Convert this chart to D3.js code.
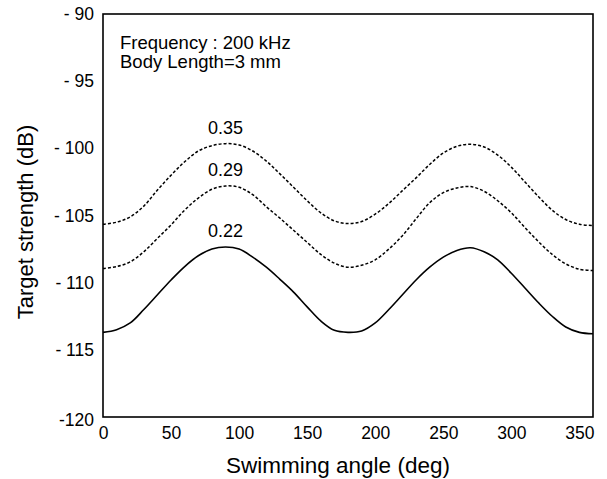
<!DOCTYPE html>
<html>
<head>
<meta charset="utf-8">
<script src="https://cdn.jsdelivr.net/npm/d3@7"></script>
<style>
  body { margin: 0; background: #fff; }
  svg { display: block; font-family: "Liberation Sans", Arial, sans-serif; }
  .tick text { font-size: 17.5px; fill: #000; }
</style>
</head>
<body>
<div id="chart"></div>
<script>
// swimming angle (deg), every 10 deg
var angles = [0,10,20,30,40,50,60,70,80,90,100,110,120,130,140,150,160,170,180,
              190,200,210,220,230,240,250,260,270,280,290,300,310,320,330,340,350,360];

// target strength (dB) per curve
var ts035 = [-105.65,-105.5,-105.1,-104.3,-103.1,-102.0,-101.0,-100.2,-99.8,-99.65,
             -99.75,-100.2,-100.95,-101.9,-102.9,-103.9,-104.8,-105.4,-105.6,
             -105.45,-104.9,-104.1,-103.15,-102.2,-101.2,-100.35,-99.85,-99.7,-99.9,
             -100.5,-101.4,-102.5,-103.6,-104.6,-105.3,-105.65,-105.75];
var ts029 = [-108.95,-108.8,-108.45,-107.7,-106.7,-105.7,-104.6,-103.7,-103.05,-102.8,
             -102.9,-103.45,-104.35,-105.2,-106.1,-107.0,-107.9,-108.55,-108.85,
             -108.7,-108.3,-107.5,-106.5,-105.25,-104.05,-103.3,-102.95,-102.85,-103.2,
             -103.9,-104.8,-105.9,-106.95,-107.9,-108.6,-109.0,-109.1];
var ts022 = [-113.7,-113.5,-113.0,-112.0,-110.9,-109.8,-108.8,-108.0,-107.5,-107.35,
             -107.5,-108.1,-108.85,-109.75,-110.7,-111.8,-112.85,-113.55,-113.7,
             -113.6,-113.0,-112.0,-110.9,-109.8,-108.85,-108.1,-107.6,-107.4,-107.7,
             -108.3,-109.3,-110.4,-111.5,-112.5,-113.3,-113.7,-113.8];

var curveNames = ['0.35', '0.29', '0.22'];
var curveDashed = [true, true, false];
var curveValues = [ts035, ts029, ts022];
var labelAngle = [90, 90, 90];
var labelValue = [-99.65, -102.8, -107.35];

var xTicks = [0, 50, 100, 150, 200, 250, 300, 350];
var yTicks = [-90, -95, -100, -105, -110, -115, -120];
var yTickLabels = ['- 90', '- 95', '- 100', '- 105', '- 110', '- 115', '-120'];

var notes = ['Frequency : 200 kHz', 'Body Length=3 mm'];

var W = 607, H = 479;
var margin = {left: 103, top: 14, right: 14, bottom: 62};
var width = W - margin.left - margin.right;
var height = H - margin.top - margin.bottom;

var svg = d3.select('#chart').append('svg')
    .attr('width', W)
    .attr('height', H);

var g = svg.append('g')
    .attr('transform', 'translate(' + margin.left + ',' + margin.top + ')');

var x = d3.scaleLinear().domain([0, 360]).range([0, width]);
var y = d3.scaleLinear().domain([-120, -90]).range([height, 0]);

// axes (labels only, no tick marks)
var xAxis = g.append('g')
    .attr('transform', 'translate(0,' + height + ')')
    .call(d3.axisBottom(x).tickValues(xTicks).tickSize(0).tickPadding(10));
xAxis.select('.domain').remove();

var yAxis = g.append('g')
    .call(d3.axisLeft(y).tickValues(yTicks).tickSize(0).tickPadding(9)
      .tickFormat(function(d){ return yTickLabels[yTicks.indexOf(d)]; }));
yAxis.select('.domain').remove();
yAxis.selectAll('.tick text').filter(function(d){ return d === -120; })
    .attr('dy', '0.5em');

// frame
g.append('rect')
    .attr('x', 0).attr('y', 0)
    .attr('width', width).attr('height', height)
    .attr('fill', 'none')
    .attr('stroke', '#000')
    .attr('stroke-width', 1.6);

// curves
var line = d3.line()
    .x(function(d){ return x(d[0]); })
    .y(function(d){ return y(d[1]); })
    .curve(d3.curveCatmullRom.alpha(0.5));

curveValues.forEach(function(vals, i){
  var pts = angles.map(function(a, j){ return [a, vals[j]]; });
  g.append('path')
    .datum(pts)
    .attr('d', line)
    .attr('fill', 'none')
    .attr('stroke', '#000')
    .attr('stroke-width', curveDashed[i] ? 1.5 : 1.6)
    .attr('stroke-dasharray', curveDashed[i] ? '3,2' : null);

  g.append('text')
    .attr('x', x(labelAngle[i]))
    .attr('y', y(labelValue[i]) - 10)
    .attr('text-anchor', 'middle')
    .attr('font-size', 18)
    .text(curveNames[i]);
});

// notes
g.selectAll('.note')
    .data(notes)
  .enter().append('text')
    .attr('class', 'note')
    .attr('x', 17)
    .attr('y', function(d, i){ return 35 + i * 19; })
    .attr('font-size', 18.5)
    .text(function(d){ return d; });

// axis titles
svg.append('text')
    .attr('x', margin.left + width / 2 - 10)
    .attr('y', 473)
    .attr('text-anchor', 'middle')
    .attr('font-size', 22.5)
    .text('Swimming angle (deg)');

svg.append('text')
    .attr('transform', 'translate(33,' + 222 + ') rotate(-90)')
    .attr('text-anchor', 'middle')
    .attr('font-size', 22)
    .text('Target strength (dB)');
</script>
</body>
</html>
